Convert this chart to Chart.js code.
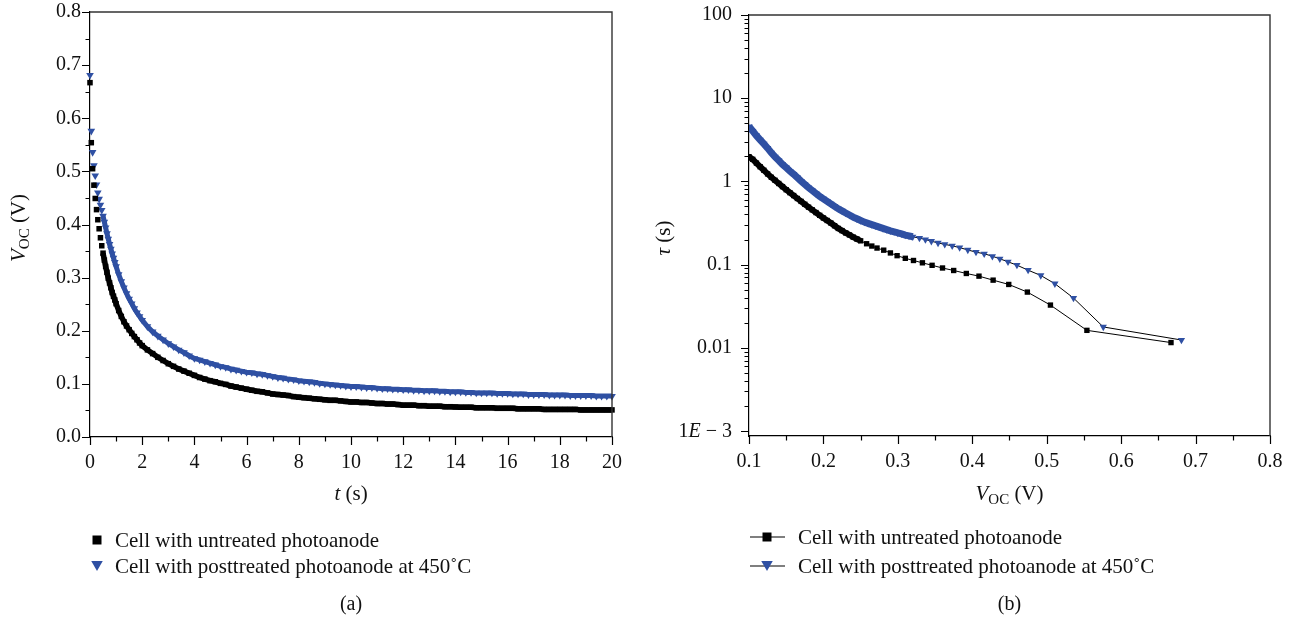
<!DOCTYPE html>
<html><head><meta charset="utf-8">
<script src="https://cdn.jsdelivr.net/npm/chart.js@4/dist/chart.umd.min.js"></script>
<style>
html,body{margin:0;padding:0;background:#fff;}
body{width:1296px;height:625px;overflow:hidden;position:relative;}
#wa{position:absolute;left:0;top:0;width:648px;height:625px;}
#wb{position:absolute;left:648px;top:0;width:648px;height:625px;}
</style></head>
<body>
<div id="wa"><canvas id="ca"></canvas></div>
<div id="wb"><canvas id="cb"></canvas></div>
<script>
// ---------- DATA ----------
const seriesNames = ['Cell with untreated photoanode', 'Cell with posttreated photoanode at 450˚C'];
const panelLabels = ['(a)', '(b)'];

// (a) open-circuit voltage decay
const timeS = [
 0,0.05,0.1,0.15,0.2,0.25,0.3,0.35,0.4,0.45,
 0.5,0.55,0.6,0.65,0.7,0.75,0.8,0.85,0.9,0.95,
 1,1.1,1.2,1.3,1.4,1.5,1.6,1.7,1.8,1.9,
 2,2.2,2.4,2.6,2.8,3,3.2,3.4,3.6,3.8,
 4,4.2,4.4,4.6,4.8,5,5.2,5.4,5.6,5.8,
 6,6.2,6.4,6.6,6.8,7,7.2,7.4,7.6,7.8,
 8,8.2,8.4,8.6,8.8,9,9.2,9.4,9.6,9.8,
 10,10.2,10.4,10.6,10.8,11,11.2,11.4,11.6,11.8,
 12,12.2,12.4,12.6,12.8,13,13.2,13.4,13.6,13.8,
 14,14.2,14.4,14.6,14.8,15,15.2,15.4,15.6,15.8,
 16,16.2,16.4,16.6,16.8,17,17.2,17.4,17.6,17.8,
 18,18.2,18.4,18.6,18.8,19,19.2,19.4,19.6,19.8,
 20];
const vocUntreated = [
 0.667,0.554,0.505,0.474,0.449,0.428,0.409,0.392,0.375,0.360,
 0.346,0.333,0.321,0.310,0.299,0.290,0.281,0.272,0.265,0.258,
 0.251,0.238,0.227,0.217,0.209,0.202,0.195,0.189,0.183,0.177,
 0.172,0.164,0.157,0.150,0.144,0.138,0.133,0.128,0.124,0.120,
 0.116,0.112,0.109,0.106,0.104,0.101,0.099,0.096,0.094,0.092,
 0.090,0.088,0.086,0.085,0.083,0.081,0.080,0.079,0.078,0.076,
 0.075,0.074,0.073,0.072,0.071,0.070,0.069,0.069,0.068,0.067,
 0.066,0.066,0.065,0.065,0.064,0.063,0.063,0.062,0.062,0.061,
 0.060,0.060,0.060,0.059,0.059,0.058,0.058,0.058,0.057,0.057,
 0.0565,0.056,0.056,0.056,0.055,0.055,0.055,0.055,0.054,0.054,
 0.054,0.054,0.053,0.053,0.053,0.053,0.053,0.052,0.052,0.052,
 0.052,0.052,0.052,0.052,0.051,0.051,0.051,0.051,0.051,0.051,
 0.051];
const vocPosttreated = [
 0.681,0.576,0.536,0.511,0.492,0.475,0.460,0.448,0.437,0.427,
 0.416,0.405,0.394,0.383,0.373,0.363,0.354,0.345,0.337,0.329,
 0.321,0.306,0.293,0.281,0.270,0.260,0.251,0.242,0.234,0.227,
 0.220,0.208,0.198,0.190,0.183,0.176,0.170,0.164,0.159,0.153,
 0.148,0.145,0.142,0.139,0.136,0.133,0.131,0.128,0.126,0.124,
 0.122,0.121,0.119,0.118,0.116,0.114,0.112,0.111,0.109,0.108,
 0.106,0.105,0.104,0.103,0.101,0.100,0.099,0.098,0.097,0.096,
 0.095,0.095,0.094,0.093,0.093,0.092,0.091,0.091,0.090,0.090,
 0.089,0.089,0.088,0.088,0.087,0.087,0.087,0.086,0.086,0.085,
 0.085,0.085,0.084,0.084,0.083,0.083,0.083,0.083,0.082,0.082,
 0.082,0.081,0.081,0.081,0.080,0.080,0.080,0.080,0.079,0.079,
 0.079,0.079,0.078,0.078,0.078,0.078,0.078,0.077,0.077,0.077,
 0.077];

// (b) electron lifetime vs Voc
const vocAxisUntreated = [
 0.100,0.105,0.110,0.115,0.120,0.125,0.130,0.135,0.140,0.145,
 0.150,0.155,0.160,0.165,0.170,0.175,0.180,0.185,0.190,0.195,
 0.200,0.205,0.210,0.215,0.220,0.225,0.230,0.235,0.240,0.245,
 0.250,0.258,0.265,0.272,0.281,0.290,0.299,0.310,0.321,0.333,
 0.346,0.360,0.375,0.392,0.409,0.428,0.449,0.474,0.505,0.554,
 0.667];
const tauUntreated = [
 1.98,1.84,1.66,1.50,1.36,1.23,1.12,1.03,0.944,0.865,
 0.794,0.732,0.676,0.623,0.575,0.531,0.490,0.455,0.422,0.391,
 0.363,0.339,0.316,0.293,0.272,0.256,0.240,0.227,0.214,0.203,
 0.193,0.178,0.167,0.158,0.149,0.138,0.128,0.119,0.112,0.105,
 0.098,0.091,0.0849,0.0782,0.0726,0.065,0.0577,0.0467,0.0326,0.0162,
 0.01155];
const vocAxisPosttreated = [
 0.100,0.105,0.110,0.115,0.120,0.125,0.130,0.135,0.140,0.145,
 0.150,0.155,0.160,0.165,0.170,0.175,0.180,0.185,0.190,0.195,
 0.200,0.205,0.210,0.215,0.220,0.225,0.230,0.235,0.240,0.245,
 0.250,0.255,0.260,0.265,0.270,0.275,0.280,0.285,0.290,0.295,
 0.300,0.305,0.310,0.315,0.320,0.329,0.337,0.345,0.354,0.363,
 0.373,0.383,0.394,0.405,0.416,0.427,0.437,0.448,0.460,0.475,
 0.492,0.511,0.536,0.576,0.681];
const tauPosttreated = [
 4.57,4.03,3.55,3.16,2.82,2.51,2.21,1.97,1.78,1.60,
 1.46,1.33,1.22,1.11,1.01,0.923,0.841,0.776,0.716,0.661,
 0.617,0.575,0.537,0.501,0.468,0.442,0.417,0.394,0.372,0.355,
 0.339,0.324,0.313,0.302,0.292,0.282,0.272,0.263,0.254,0.248,
 0.240,0.234,0.226,0.221,0.216,0.208,0.200,0.191,0.182,0.175,
 0.168,0.160,0.150,0.141,0.135,0.126,0.1174,0.108,0.0984,0.0857,
 0.074,0.0589,0.0396,0.0178,0.0124];

// ticks
const xTicksA = [0,2,4,6,8,10,12,14,16,18,20];
const yTicksA = [0,0.1,0.2,0.3,0.4,0.5,0.6,0.7,0.8];
const xTicksB = [0.1,0.2,0.3,0.4,0.5,0.6,0.7,0.8];
const yTicksB = [0.001,0.01,0.1,1,10,100];
const yTickLabelsB = ['1E − 3','0.01','0.1','1','10','100'];

// ---------- STYLE ----------
const FONT = '"Liberation Serif","DejaVu Serif",serif';
const BLUE = 'rgb(47,80,163)';
const INK = '#111';
const TICK = 20, TXT = 21;
Chart.defaults.font.family = FONT;
Chart.defaults.font.size = TICK;
Chart.defaults.color = INK;

function richText(ctx, parts, x, y, align, rot) {
  ctx.save();
  ctx.translate(x, y);
  if (rot) ctx.rotate(rot);
  ctx.textBaseline = 'alphabetic';
  let total = 0;
  const ws = parts.map(p => { ctx.font = (p.i ? 'italic ' : '') + p.s + 'px ' + FONT; const w = ctx.measureText(p.t).width; total += w; return w; });
  let cx = align === 'center' ? -total / 2 : (align === 'right' ? -total : 0);
  parts.forEach((p, k) => {
    ctx.font = (p.i ? 'italic ' : '') + p.s + 'px ' + FONT;
    ctx.fillStyle = INK;
    ctx.fillText(p.t, cx, p.dy || 0);
    cx += ws[k];
  });
  ctx.restore();
}

function drawMarker(ctx, style, x, y, size, color) {
  ctx.save();
  ctx.fillStyle = color;
  ctx.beginPath();
  if (style === 'rect') {
    ctx.rect(x - size / 2, y - size / 2, size, size);
  } else {
    const h = size * 0.87;
    ctx.moveTo(x - size / 2, y - h / 2);
    ctx.lineTo(x + size / 2, y - h / 2);
    ctx.lineTo(x, y + h / 2);
    ctx.closePath();
  }
  ctx.fill();
  ctx.restore();
}

const decor = {
  id: 'decor',
  afterDraw(chart, args, o) {
    const ctx = chart.ctx, a = chart.chartArea;
    const xs = chart.scales.x, ys = chart.scales.y;
    ctx.save();
    ctx.strokeStyle = '#333';
    ctx.lineWidth = 1.4;
    ctx.beginPath();
    ctx.moveTo(a.left, a.top); ctx.lineTo(a.right, a.top); ctx.lineTo(a.right, a.bottom);
    ctx.stroke();
    ctx.strokeStyle = '#000';
    ctx.lineWidth = 1.2;
    ctx.beginPath();
    o.xMajor.forEach(v => { const p = Math.round(xs.getPixelForValue(v)) + 0.5; ctx.moveTo(p, a.bottom); ctx.lineTo(p, a.bottom + 8); });
    o.xMinor.forEach(v => { const p = Math.round(xs.getPixelForValue(v)) + 0.5; ctx.moveTo(p, a.bottom); ctx.lineTo(p, a.bottom + 4.5); });
    o.yMajor.forEach(v => { const p = Math.round(ys.getPixelForValue(v)) + 0.5; ctx.moveTo(a.left, p); ctx.lineTo(a.left - 8, p); });
    o.yMinor.forEach(v => { const p = Math.round(ys.getPixelForValue(v)) + 0.5; if (p > a.bottom) return; ctx.moveTo(a.left, p); ctx.lineTo(a.left - 4.5, p); });
    ctx.stroke();
    ctx.restore();
    if (o.extra) o.extra(ctx, chart);
    richText(ctx, o.xTitle, (a.left + a.right) / 2, 500, 'center');
    richText(ctx, o.yTitle.parts, o.yTitle.x, o.yTitle.y, 'center', -Math.PI / 2);
    chart.data.datasets.forEach((ds, i) => {
      const ly = o.legend.rows[i];
      if (o.legend.line) {
        ctx.save(); ctx.strokeStyle = '#000'; ctx.lineWidth = 1.2;
        ctx.beginPath(); ctx.moveTo(o.legend.lx0, ly.m); ctx.lineTo(o.legend.lx1, ly.m); ctx.stroke(); ctx.restore();
      }
      drawMarker(ctx, ds.pointStyle === 'rect' ? 'rect' : 'tri', o.legend.mx, ly.m, ds.pointStyle === 'rect' ? o.legend.sq : o.legend.tri, ds.pointBackgroundColor);
      richText(ctx, [{t: ds.label, s: TXT}], o.legend.tx, ly.b, 'left');
    });
    richText(ctx, [{t: o.panel, s: TICK}], (a.left + a.right) / 2, 610, 'center');
  }
};

function fixedTicks(arr) {
  return function (scale) { scale.ticks = arr.map(v => ({value: v})); };
}
function noPad(s) { s.paddingTop = 0; s.paddingBottom = 0; s.paddingLeft = 0; s.paddingRight = 0; }
const halfTicks = (arr) => arr.slice(0, -1).map((v, i) => (v + arr[i + 1]) / 2);

// ---------- CHART (a) ----------
const bandA = (col, w) => ({
  borderWidth: c => c.p0.parsed.x >= 0.5 ? w : 0.01,
  borderColor: c => c.p0.parsed.x >= 0.5 ? col : 'rgba(0,0,0,0)'
});

new Chart(document.getElementById('ca'), {
  type: 'scatter',
  data: {
    datasets: [
      {label: seriesNames[0], data: timeS.map((t, i) => ({x: t, y: vocUntreated[i]})),
       showLine: true, segment: bandA('#000', 5.5), borderWidth: 5.5, borderColor: '#000',
       pointStyle: 'rect', pointRadius: 3.9, pointBackgroundColor: '#000', pointBorderColor: '#000', pointBorderWidth: 0, clip: 8},
      {label: seriesNames[1], data: timeS.map((t, i) => ({x: t, y: vocPosttreated[i]})),
       showLine: true, segment: bandA(BLUE, 5), borderWidth: 5, borderColor: BLUE,
       pointStyle: 'triangle', rotation: 180, pointRadius: 4.4, pointBackgroundColor: BLUE, pointBorderColor: BLUE, pointBorderWidth: 0, clip: 8}
    ]
  },
  options: {
    responsive: true, maintainAspectRatio: false, animation: false, devicePixelRatio: 1,
    layout: {padding: {left: 0, top: 12, right: 36, bottom: 143}},
    plugins: {
      legend: {display: false}, tooltip: {enabled: false},
      decor: {
        xMajor: xTicksA, xMinor: halfTicks(xTicksA),
        yMajor: yTicksA, yMinor: halfTicks(yTicksA),
        xTitle: [{t: 't', s: TXT, i: true}, {t: ' (s)', s: TXT}],
        yTitle: {x: 25, y: 228, parts: [{t: 'V', s: TXT, i: true}, {t: 'OC', s: 15, dy: 4}, {t: ' (V)', s: TXT}]},
        legend: {rows: [{m: 540, b: 547}, {m: 566, b: 573}], mx: 97, sq: 9, tri: 11.5, tx: 115},
        panel: panelLabels[0]
      }
    },
    scales: {
      x: {type: 'linear', min: 0, max: 20, afterBuildTicks: fixedTicks(xTicksA),
          afterFit: s => { s.height = 45; noPad(s); },
          grid: {display: false, drawTicks: false}, border: {display: true, color: '#000', width: 1.2},
          ticks: {padding: 14, maxRotation: 0, autoSkip: false, callback: v => String(v)}},
      y: {type: 'linear', min: 0, max: 0.8, afterBuildTicks: fixedTicks(yTicksA),
          afterFit: s => { s.width = 90; noPad(s); },
          grid: {display: false, drawTicks: false}, border: {display: true, color: '#000', width: 1.2},
          ticks: {padding: 9, autoSkip: false, callback: v => Number(v).toFixed(1)}}
    }
  },
  plugins: [decor]
});

// ---------- CHART (b) ----------
const logMinor = [];
[-3, -2, -1, 0, 1].forEach(e => { for (let k = 2; k <= 9; k++) logMinor.push(k * Math.pow(10, e)); });

const bandB = (limit, col, w) => ({
  borderWidth: c => c.p1.parsed.x <= limit ? w : 1,
  borderColor: c => c.p1.parsed.x <= limit ? col : '#000'
});

new Chart(document.getElementById('cb'), {
  type: 'scatter',
  data: {
    datasets: [
      {label: seriesNames[0], data: vocAxisUntreated.map((v, i) => ({x: v, y: tauUntreated[i]})),
       showLine: true, borderColor: '#000', borderWidth: 1, segment: bandB(0.251, '#000', 6),
       pointStyle: 'rect', pointRadius: 3.8,
       pointBackgroundColor: '#000', pointBorderColor: '#000', pointBorderWidth: 0},
      {label: seriesNames[1], data: vocAxisPosttreated.map((v, i) => ({x: v, y: tauPosttreated[i]})),
       showLine: true, borderColor: '#000', borderWidth: 1, segment: bandB(0.321, BLUE, 7),
       pointStyle: 'triangle', rotation: 180, pointRadius: 4.2,
       pointBackgroundColor: BLUE, pointBorderColor: BLUE, pointBorderWidth: 0}
    ]
  },
  options: {
    responsive: true, maintainAspectRatio: false, animation: false, devicePixelRatio: 1,
    layout: {padding: {left: 0, top: 15, right: 26, bottom: 144}},
    plugins: {
      legend: {display: false}, tooltip: {enabled: false},
      decor: {
        xMajor: xTicksB, xMinor: halfTicks(xTicksB),
        yMajor: yTicksB, yMinor: logMinor,
        xTitle: [{t: 'V', s: TXT, i: true}, {t: 'OC', s: 15, dy: 4}, {t: ' (V)', s: TXT}],
        yTitle: {x: 22, y: 238, parts: [{t: 'τ', s: TXT, i: true}, {t: ' (s)', s: TXT}]},
        legend: {rows: [{m: 537, b: 544}, {m: 566, b: 573}], mx: 119, sq: 9, tri: 11.5, tx: 150, line: true, lx0: 102, lx1: 137},
        panel: panelLabels[1],
        extra: (ctx, chart) => {
          const ys = chart.scales.y, a = chart.chartArea;
          const py = ys.getPixelForValue(yTicksB[0]) + 6.5;
          const lab = yTickLabelsB[0].split('E');
          richText(ctx, [{t: lab[0], s: TICK}, {t: 'E', s: TICK, i: true}, {t: lab[1], s: TICK}], a.left - 17, py, 'right');
        }
      }
    },
    scales: {
      x: {type: 'linear', min: 0.1, max: 0.8, afterBuildTicks: fixedTicks(xTicksB),
          afterFit: s => { s.height = 45; noPad(s); },
          grid: {display: false, drawTicks: false}, border: {display: true, color: '#000', width: 1.2},
          ticks: {padding: 14, maxRotation: 0, autoSkip: false, callback: v => Number(v).toFixed(1)}},
      y: {type: 'logarithmic', min: 0.00087, max: 100, afterBuildTicks: fixedTicks(yTicksB),
          afterFit: s => { s.width = 101; noPad(s); },
          grid: {display: false, drawTicks: false}, border: {display: true, color: '#000', width: 1.2},
          ticks: {padding: 17, autoSkip: false, callback: v => { const i = yTicksB.findIndex(t => Math.abs(t - v) / t < 1e-6); return i > 0 ? yTickLabelsB[i] : ''; }}}
    }
  },
  plugins: [decor]
});
</script>
</body></html>
